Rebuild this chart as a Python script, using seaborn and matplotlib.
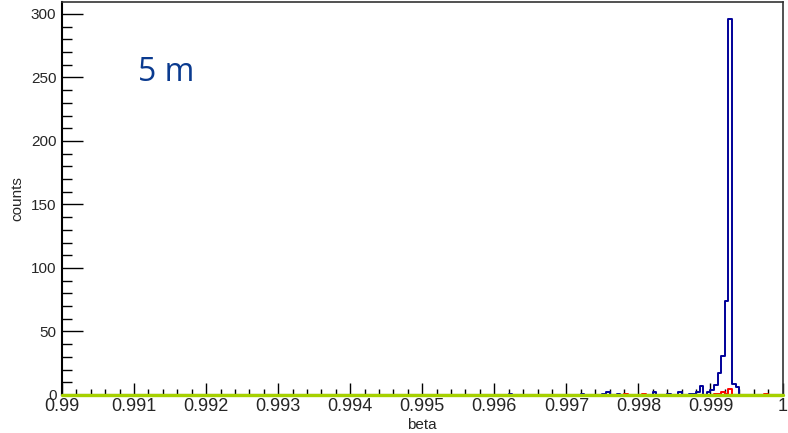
import numpy as np
import pandas as pd
import matplotlib
matplotlib.use("Agg")
import matplotlib.pyplot as plt
from matplotlib.ticker import MultipleLocator, FormatStrFormatter
import seaborn as sns

# Histogram binning: 200 bins of width 5e-5 between 0.99 and 1.0
beta_min, beta_max, n_bins = 0.99, 1.0, 200

# Non-empty bins of the main (blue) distribution: bin centers and counts
blue_beta = [0.996225, 0.997225, 0.997525, 0.997575, 0.997725, 0.998225,
             0.998425, 0.998575, 0.998725, 0.998775, 0.998825, 0.998875,
             0.998975, 0.999025, 0.999075, 0.999125, 0.999175, 0.999225,
             0.999275, 0.999325, 0.999375]
blue_counts = [1, 1, 1, 2, 1, 2,
               1, 2, 1, 1, 2, 7,
               2, 4, 8, 17, 31, 74,
               296, 9, 6]

# Non-empty bins of the second (red) distribution
red_beta = [0.997825, 0.998075, 0.999075, 0.999125, 0.999175, 0.999225,
            0.999275, 0.999775]
red_counts = [1, 1, 1, 1, 2, 1, 5, 1]

# Third distribution is empty over the whole range
green_beta = [0.995]
green_counts = [0]

x_ticks = [0.99, 0.991, 0.992, 0.993, 0.994, 0.995, 0.996, 0.997, 0.998, 0.999, 1.0]
y_ticks = [0, 50, 100, 150, 200, 250, 300]

sns.set_style("ticks")
plt.rcParams["font.family"] = ["Liberation Sans", "DejaVu Sans"]

edges = list(np.linspace(beta_min, beta_max, n_bins + 1))

fig = plt.figure(figsize=(7.88, 4.33), dpi=100)
ax = fig.add_axes([62 / 788, 38 / 433, 720.5 / 788, 393 / 433])

blue_df = pd.DataFrame({"beta": blue_beta, "counts": blue_counts})
red_df = pd.DataFrame({"beta": red_beta, "counts": red_counts})
green_df = pd.DataFrame({"beta": green_beta, "counts": green_counts})

sns.histplot(data=blue_df, x="beta", weights="counts", bins=edges,
             element="step", fill=False, color="#000099", linewidth=1.4,
             ax=ax, zorder=3)
sns.histplot(data=red_df, x="beta", weights="counts", bins=edges,
             element="step", fill=False, color="#ff0000", linewidth=1.4,
             ax=ax, zorder=4)
sns.histplot(data=green_df, x="beta", weights="counts", bins=edges,
             element="step", fill=False, color="#a6d100", linewidth=2.4,
             ax=ax, zorder=5, clip_on=False)

ax.set_xlim(beta_min, beta_max)
ax.set_ylim(0, 309.4)

ax.set_xticks(x_ticks)
ax.xaxis.set_major_formatter(FormatStrFormatter("%g"))
ax.xaxis.set_minor_locator(MultipleLocator(0.0002))
ax.set_yticks(y_ticks)
ax.yaxis.set_minor_locator(MultipleLocator(10))

ax.tick_params(axis="both", which="both", direction="in", color="black",
               width=1.0, top=False, right=False)
ax.tick_params(axis="x", which="major", length=8.6, pad=2, labelsize=13)
ax.tick_params(axis="x", which="minor", length=4.3)
ax.tick_params(axis="y", which="major", length=15, pad=4, labelsize=11)
ax.tick_params(axis="y", which="minor", length=7.2)

for side in ["left", "bottom"]:
    ax.spines[side].set_linewidth(1.5)
    ax.spines[side].set_color("black")
for side in ["top", "right"]:
    ax.spines[side].set_linewidth(1.2)
    ax.spines[side].set_color("#333333")

ax.set_xlabel("beta", fontsize=11, labelpad=2)
ax.set_ylabel("counts", fontsize=11, labelpad=5)

ax.text(138 / 788, 1 - 81 / 433, "5 m", transform=fig.transFigure,
        fontsize=23, color="#0a3a8f", family=["Open Sans", "DejaVu Sans"],
        ha="left", va="baseline")

fig.savefig("out.png", dpi=100)
